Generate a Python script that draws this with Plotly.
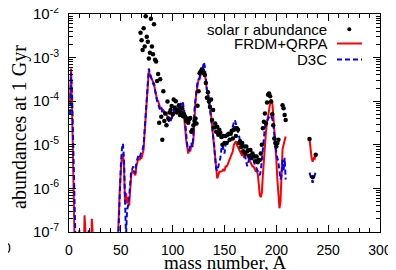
import plotly.graph_objects as go

# ---------------- data ----------------
mass_model = list(range(1, 210)) + [None] + list(range(232, 239))

frdm_qrpa = [
    1.0e-4, 5.6e-4, 6.3e-5, 5.0e-6, 2.5e-7, 1e-8, 1e-8, 1e-8, 1e-8, 1e-8,          # 1-10
    1e-8, 1e-8, 1e-8, 1e-8, 2.4e-7, 1e-8, 1e-8, 1e-8, 1e-8, 1e-8,               # 11-20
    1e-8, 2.0e-7, 1e-8, 1e-8, 1e-8, 1e-8, 1e-8, 1e-8, 1e-8, 1e-8,               # 21-30
    1e-8, 1e-8, 1e-8, 1e-8, 1e-8, 1e-8, 1e-8, 1e-8, 1e-8, 1e-8,                 # 31-40
    1e-8, 1e-8, 1e-8, 1e-8, 1e-8, 1e-8, 5.0e-8, 3.2e-7, 1.0e-6, 2.5e-6,         # 41-50
    5.6e-6, 6.3e-6, 3.5e-6, 5.0e-7, 7.9e-7, 4.5e-7, 6.3e-7, 4.0e-7, 1.0e-6, 2.0e-6,  # 51-60
    2.5e-6, 2.5e-6, 2.2e-6, 2.0e-6, 3.2e-6, 4.5e-6, 5.0e-6, 4.5e-6, 5.0e-6, 5.0e-6,  # 61-70
    7.1e-6, 7.9e-6, 2.0e-5, 4.5e-5, 1.0e-4, 2.8e-4, 5.0e-4, 4.0e-4, 3.5e-4, 3.2e-4,  # 71-80
    2.8e-4, 2.5e-4, 1.8e-4, 1.3e-4, 1.1e-4, 1.0e-4, 7.9e-5, 7.1e-5, 7.1e-5, 6.3e-5,  # 81-90
    6.3e-5, 5.6e-5, 5.0e-5, 5.0e-5, 4.5e-5, 4.0e-5, 3.5e-5, 4.0e-5, 4.0e-5, 4.5e-5,  # 91-100
    5.0e-5, 6.3e-5, 5.6e-5, 5.0e-5, 6.3e-5, 5.6e-5, 7.1e-5, 7.9e-5, 8.9e-5, 7.9e-5,  # 101-110
    5.0e-5, 2.5e-5, 1.3e-5, 7.9e-6, 6.3e-6, 7.9e-6, 7.1e-6, 1.0e-5, 8.9e-6, 1.3e-5,  # 111-120
    5.0e-5, 1.0e-4, 1.6e-4, 2.5e-4, 3.2e-4, 3.2e-4, 4.5e-4, 5.0e-4, 5.2e-4, 5.0e-4,  # 121-130
    4.5e-4, 2.5e-4, 1.8e-4, 1.6e-4, 1.1e-4, 7.9e-5, 5.0e-5, 2.8e-5, 1.6e-5, 8.9e-6,  # 131-140
    4.0e-6, 2.2e-6, 1.7e-6, 2.0e-6, 2.4e-6, 2.4e-6, 2.5e-6, 2.5e-6, 2.8e-6, 2.5e-6,  # 141-150
    3.2e-6, 3.2e-6, 3.5e-6, 4.0e-6, 5.0e-6, 5.6e-6, 6.3e-6, 7.1e-6, 1.0e-5, 1.1e-5,  # 151-160
    1.2e-5, 1.0e-5, 8.9e-6, 7.9e-6, 7.1e-6, 6.3e-6, 5.6e-6, 6.3e-6, 5.0e-6, 5.6e-6,  # 161-170
    6.3e-6, 5.6e-6, 5.0e-6, 4.5e-6, 4.0e-6, 3.5e-6, 3.2e-6, 3.2e-6, 2.8e-6, 2.5e-6,  # 171-180
    2.5e-6, 2.2e-6, 1.3e-6, 7.1e-7, 6.3e-7, 7.9e-7, 2.0e-6, 5.0e-6, 1.0e-5, 2.0e-5,  # 181-190
    3.2e-5, 5.0e-5, 7.1e-5, 8.9e-5, 1.05e-4, 1.0e-4, 5.0e-5, 2.5e-5, 1.0e-5, 4.5e-6,  # 191-200
    1.6e-6, 6.3e-7, 3.5e-7, 5.0e-7, 3.2e-6, 7.9e-6, 1.0e-5, 1.4e-5, 1.55e-5,          # 201-209
    None,
    1.35e-5, 7.9e-6, 5.0e-6, 4.1e-6, 5.0e-6, 4.8e-6, 6.0e-6,                          # 232-238
]

d3c = [
    5.0e-5, 4.5e-4, 1.3e-4, 1.6e-5, 1.6e-6, 6.3e-8, 1e-8, 1e-8, 1e-8, 1.1e-7,      # 1-10
    1e-8, 1e-8, 1e-8, 1e-8, 1e-8, 1e-8, 1e-8, 1e-8, 1.1e-7, 1e-8,               # 11-20
    1e-8, 1e-8, 1e-8, 1e-8, 1e-8, 1e-8, 1e-8, 1e-8, 1e-8, 1e-8,                 # 21-30
    1e-8, 1e-8, 1e-8, 1e-8, 1e-8, 1e-8, 1e-8, 1e-8, 1e-8, 1e-8,                 # 31-40
    1e-8, 1e-8, 1e-8, 1e-8, 1e-8, 1e-8, 1e-8, 1.6e-7, 1.0e-6, 3.2e-6,           # 41-50
    7.9e-6, 1.07e-5, 5.0e-6, 7.9e-7, 7.9e-8, 3.2e-7, 4.0e-7, 6.3e-7, 1.3e-6, 2.5e-6,  # 51-60
    2.8e-6, 3.2e-6, 2.5e-6, 2.2e-6, 4.0e-6, 5.0e-6, 5.6e-6, 5.0e-6, 6.3e-6, 7.1e-6,  # 61-70
    7.9e-6, 1.0e-5, 2.2e-5, 5.0e-5, 1.0e-4, 2.8e-4, 5.6e-4, 4.5e-4, 3.5e-4, 3.2e-4,  # 71-80
    2.5e-4, 2.5e-4, 1.6e-4, 1.3e-4, 1.0e-4, 8.9e-5, 7.1e-5, 6.3e-5, 7.1e-5, 5.6e-5,  # 81-90
    6.3e-5, 5.0e-5, 5.0e-5, 4.5e-5, 4.0e-5, 3.5e-5, 3.2e-5, 3.5e-5, 4.5e-5, 5.0e-5,  # 91-100
    5.6e-5, 7.9e-5, 6.3e-5, 7.1e-5, 7.9e-5, 6.3e-5, 7.9e-5, 8.9e-5, 1.0e-4, 8.9e-5,  # 101-110
    6.3e-5, 3.2e-5, 1.6e-5, 1.0e-5, 7.9e-6, 7.6e-6, 1.0e-5, 1.1e-5, 8.9e-6, 1.6e-5,  # 111-120
    6.3e-5, 1.3e-4, 1.8e-4, 2.8e-4, 3.2e-4, 3.5e-4, 5.0e-4, 6.3e-4, 5.6e-4, 7.9e-4,  # 121-130
    6.3e-4, 2.8e-4, 1.8e-4, 1.6e-4, 1.0e-4, 7.9e-5, 5.0e-5, 3.2e-5, 1.8e-5, 1.0e-5,  # 131-140
    5.0e-6, 2.8e-6, 2.5e-6, 3.2e-6, 4.5e-6, 5.0e-6, 7.9e-6, 1.0e-5, 7.9e-6, 6.3e-6,  # 141-150
    1.0e-5, 1.1e-5, 1.0e-5, 1.3e-5, 1.6e-5, 2.0e-5, 2.2e-5, 2.8e-5, 3.2e-5, 3.7e-5,  # 151-160
    3.2e-5, 2.5e-5, 2.0e-5, 1.6e-5, 1.1e-5, 8.9e-6, 7.9e-6, 6.3e-6, 7.1e-6, 5.0e-6,  # 161-170
    4.0e-6, 3.2e-6, 4.5e-6, 5.0e-6, 5.6e-6, 5.0e-6, 4.5e-6, 5.0e-6, 3.5e-6, 3.2e-6,  # 171-180
    2.8e-6, 2.5e-6, 2.2e-6, 2.0e-6, 2.5e-6, 5.0e-6, 1.0e-5, 1.6e-5, 2.5e-5, 3.2e-5,  # 181-190
    3.5e-5, 4.0e-5, 4.5e-5, 4.8e-5, 4.5e-5, 4.0e-5, 3.2e-5, 1.6e-5, 1.0e-5, 6.3e-6,  # 191-200
    5.0e-6, 4.0e-6, 2.5e-6, 1.6e-6, 2.0e-6, 4.5e-6, 2.5e-6, 5.0e-6, 1.6e-6,          # 201-209
    None,
    2.3e-6, 2.0e-6, 1.6e-6, 1.35e-6, 1.8e-6, 2.0e-6, 2.4e-6,                          # 232-238
]

mass_solar = list(range(69, 203)) + [206, 207, 208, 209, 232, 235, 238]
solar_r = [
    3.7e-3, 2.5e-3, 1.5e-3, 4.7e-3, 1.8e-3, 8.9e-3, 3.0e-3, 2.3e-3, 9.5e-4, 1.3e-3,  # 69-78
    7.8e-3, 1.8e-3, 1.2e-3, 5.8e-3, 8.9e-4, 8.1e-4, 2.9e-4, 4.2e-4, 3.2e-5, 3.2e-4,  # 79-88
    4.4e-5, 1.3e-5, 1.7e-4, 3.5e-5, 5.2e-5, 2.8e-5, 9.8e-5, 4.0e-5, 5.5e-5, 6.3e-5,  # 89-98
    7.8e-5, 5.0e-5, 1.1e-4, 7.1e-5, 1.0e-4, 5.6e-5, 6.3e-5, 8.1e-5, 4.8e-5, 5.6e-5,  # 99-108
    6.9e-5, 4.5e-5, 5.0e-5, 4.4e-5, 3.5e-5, 4.0e-5, 3.2e-5, 3.8e-5, 4.1e-5, 2.0e-5,  # 109-118
    2.2e-5, 2.8e-5, 3.5e-5, 4.0e-5, 3.1e-5, 7.9e-5, 1.7e-4, 4.4e-4, 4.8e-4, 5.2e-4,  # 119-128
    5.2e-4, 4.4e-4, 4.0e-4, 2.6e-4, 1.2e-4, 1.6e-4, 9.8e-5, 7.4e-5, 1.1e-4, 3.7e-5,  # 129-138
    6.3e-5, 2.5e-5, 3.1e-5, 2.0e-5, 2.6e-5, 1.7e-5, 2.2e-5, 1.9e-5, 1.5e-5, 1.0e-5,  # 139-148
    1.6e-5, 1.1e-5, 1.6e-5, 1.1e-5, 1.7e-5, 1.8e-5, 1.3e-5, 1.8e-5, 2.1e-5, 1.4e-5,  # 149-158
    2.2e-5, 2.4e-5, 1.6e-5, 2.4e-5, 2.2e-5, 1.1e-5, 1.2e-5, 8.9e-6, 1.1e-5, 7.1e-6,  # 159-168
    9.1e-6, 6.3e-6, 9.1e-6, 7.1e-6, 7.6e-6, 5.6e-6, 7.6e-6, 5.0e-6, 6.3e-6, 5.6e-6,  # 169-178
    5.4e-6, 4.2e-6, 5.4e-6, 4.0e-6, 4.5e-6, 4.5e-6, 6.3e-6, 1.0e-5, 2.4e-5, 3.4e-5,  # 179-188
    5.2e-5, 3.1e-5, 9.3e-5, 1.4e-4, 1.5e-4, 1.3e-4, 9.8e-5, 5.0e-5, 2.8e-5, 1.4e-5,  # 189-198
    1.1e-5, 9.1e-6, 1.1e-5, 1.3e-5,                                                  # 199-202
    8.1e-5, 6.9e-5, 4.8e-5, 3.7e-5,                                                  # 206-209
    1.35e-5, 1.8e-6, 5.9e-6,                                                         # 232, 235, 238
]

y_tick_vals = [1e-7, 1e-6, 1e-5, 1e-4, 1e-3, 1e-2]
y_tick_text = ["10<sup>-7</sup>", "10<sup>-6</sup>", "10<sup>-5</sup>",
               "10<sup>-4</sup>", "10<sup>-3</sup>", "10<sup>-2</sup>"]
legend_labels = ["solar r abundance", "FRDM+QRPA", "D3C"]

# ---------------- figure ----------------
# The page body has an 8px margin, so the figure starts at window (8, 8).
OFF = 8
W, H = 396 - OFF, 270 - OFF
# plot area in window pixels: x 69..380, y 14..232
L, R, T, B = 69 - OFF, 396 - 380, 14 - OFF, 270 - 232
pw, ph = W - L - R, H - T - B


def px(xw):  # window x -> paper x
    return (xw - 69) / pw


def py(yw):  # window y -> paper y
    return (232 - yw) / ph


sans = "Liberation Sans, Arial, sans-serif"
serif = "Liberation Serif, Times New Roman, serif"

fig = go.Figure()
fig.add_trace(go.Scatter(x=mass_model, y=frdm_qrpa, mode="lines",
                         line=dict(color="#ff0000", width=2), name=legend_labels[1],
                         connectgaps=False, showlegend=False))
fig.add_trace(go.Scatter(x=mass_model, y=d3c, mode="lines",
                         line=dict(color="#0000ff", width=2, dash="5px,3px"), name=legend_labels[2],
                         connectgaps=False, showlegend=False))
fig.add_trace(go.Scatter(x=mass_solar, y=solar_r, mode="markers",
                         marker=dict(color="black", size=4.5), name=legend_labels[0],
                         showlegend=False))

fig.update_xaxes(range=[0, 300], dtick=50, tick0=0, ticks="inside", ticklen=7,
                 tickcolor="black", showline=True, linecolor="black", linewidth=1,
                 mirror="ticks", showgrid=False, zeroline=False, automargin=False,
                 tickfont=dict(family=sans, size=14, color="black"),
                 ticklabelstandoff=5, ticklabeloverflow="allow",
                 minor=dict(dtick=10, ticks="inside", ticklen=4, tickcolor="black", showgrid=False))
fig.update_yaxes(type="log", range=[-7, -2], tickmode="array", tickvals=y_tick_vals,
                 ticktext=y_tick_text, ticks="inside", ticklen=7, tickcolor="black",
                 showline=True, linecolor="black", linewidth=1, mirror="ticks",
                 showgrid=False, zeroline=False, automargin=False,
                 tickfont=dict(family=sans, size=15, color="black"),
                 ticklabelstandoff=6, ticklabeloverflow="allow",
                 minor=dict(ticks="inside", ticklen=4, tickcolor="black", dtick="D1", showgrid=False))

annotations = [
    dict(text="mass number, A", x=0.5, y=py(262), xref="paper", yref="paper",
         showarrow=False, xanchor="center", yanchor="middle",
         font=dict(family=serif, size=19, color="black")),
    dict(text="abundances at 1 Gyr", x=px(19), y=py(127), xref="paper", yref="paper",
         showarrow=False, xanchor="center", yanchor="middle", textangle=-90,
         font=dict(family=serif, size=20, color="black")),
    dict(text="0", x=px(13), y=py(248), xref="paper", yref="paper",
         showarrow=False, xanchor="right", yanchor="middle",
         font=dict(family=sans, size=14, color="black")),
]
legend_rows = [29.3, 43.5, 59.5]
for lab, yy in zip(legend_labels, legend_rows):
    annotations.append(dict(text=lab, x=px(329), y=py(yy), xref="paper", yref="paper",
                            showarrow=False, xanchor="right", yanchor="middle",
                            font=dict(family=sans, size=15, color="black")))

shapes = [
    dict(type="circle", xref="paper", yref="paper",
         x0=px(347.3), x1=px(351.3), y0=py(31.3), y1=py(27.3),
         fillcolor="black", line=dict(color="black", width=0)),
    dict(type="line", xref="paper", yref="paper", x0=px(337), x1=px(362),
         y0=py(legend_rows[1]), y1=py(legend_rows[1]), line=dict(color="#ff0000", width=2)),
    dict(type="line", xref="paper", yref="paper", x0=px(337), x1=px(362),
         y0=py(legend_rows[2]), y1=py(legend_rows[2]),
         line=dict(color="#0000ff", width=2, dash="5px,3px")),
]

fig.update_layout(width=W, height=H, margin=dict(l=L, r=R, t=T, b=B, pad=0, autoexpand=False),
                  paper_bgcolor="white", plot_bgcolor="white",
                  showlegend=False, annotations=annotations, shapes=shapes)

fig.write_html("out.html")
